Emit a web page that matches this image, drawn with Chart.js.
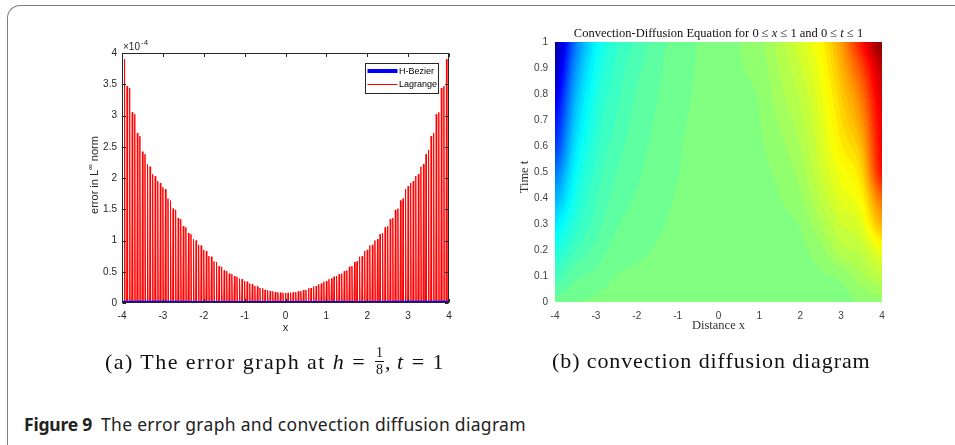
<!DOCTYPE html>
<html>
<head>
<meta charset="utf-8">
<script src="https://cdn.jsdelivr.net/npm/chart.js@4.4.1/dist/chart.umd.min.js"></script>
<style>
  html, body { margin: 0; padding: 0; background: #fff; }
  body { width: 955px; height: 445px; overflow: hidden; position: relative; }
  #frame {
    position: absolute; left: 7px; top: 5px; width: 970px; height: 470px;
    border-left: 1.5px solid #7d7d7d; border-top: 1.5px solid #7d7d7d;
    border-top-left-radius: 13px;
  }
  #errChart { position: absolute; left: 80px; top: 30px; }
  #cdChart { position: absolute; left: 505px; top: 15px; }
  .sub {
    position: absolute; top: 348px; font-family: "Liberation Serif", serif;
    font-size: 22px; letter-spacing: 0.9px; color: #111; white-space: nowrap;
  }
  #subA { letter-spacing: 1.45px; }
  .frac {
    display: inline-flex; flex-direction: column; align-items: center;
    font-size: 14px; line-height: 1; vertical-align: middle; margin: 0 1px 0 2px;
    letter-spacing: 0; position: relative; top: -2px;
  }
  .frac span:first-child { border-bottom: 1px solid #111; padding: 0 1px 1px; }
  .frac span:last-child { padding-top: 1px; }
  .it { font-style: italic; }
  .eq { margin: 0 7px; }
  .cm { margin-right: 5px; }
  #caption {
    position: absolute; left: 24px; top: 412px; font-family: "Noto Sans", sans-serif;
    font-size: 17.5px; color: #222; white-space: nowrap; letter-spacing: 0.3px;
  }
  #caption b { font-weight: 700; margin-right: 4px; letter-spacing: -0.2px; }
</style>
</head>
<body>
<div id="frame"></div>
<canvas id="errChart" width="390" height="320"></canvas>
<canvas id="cdChart" width="400" height="330"></canvas>
<div class="sub" id="subA" style="left:105px">(a) The error graph at <span class="it">h</span><span class="eq">=</span><span class="frac"><span>1</span><span>8</span></span><span class="cm">,</span><span class="it">t</span><span class="eq">=</span>1</div>
<div class="sub" style="left:552px">(b) convection diffusion diagram</div>
<div id="caption"><b>Figure 9</b> The error graph and convection diffusion diagram</div>

<script>
// ---- (a) error graph, y values in units of 1e-4 ----
const errXTicks = [-4, -3, -2, -1, 0, 1, 2, 3, 4];
const errYTicks = [0, 0.5, 1, 1.5, 2, 2.5, 3, 3.5, 4];

const hBezierX = [-4, -3, -2, -1, 0, 1, 2, 3, 4];
const hBezierErr = [0.004, 0.003, 0.002, 0.001, 0.001, 0.001, 0.002, 0.003, 0.004];

// spike positions start at -4, one every 1/16
const SPIKE_START = -4;
const SPIKE_STEP = 1 / 16;
const lagrangePeak = [
  3.95, 3.90, 3.47, 3.44, 3.05, 3.02, 2.72, 2.67, 2.42, 2.38, 2.22, 2.18, 2.06, 2.03, 1.95, 1.92,
  1.85, 1.82, 1.67, 1.64, 1.51, 1.49, 1.36, 1.34, 1.23, 1.21, 1.12, 1.10, 1.02, 1.00, 0.93, 0.92,
  0.85, 0.83, 0.75, 0.74, 0.665, 0.655, 0.59, 0.58, 0.52, 0.51, 0.47, 0.46, 0.43, 0.42, 0.39, 0.38,
  0.35, 0.34, 0.31, 0.30, 0.27, 0.265, 0.24, 0.235, 0.21, 0.205, 0.19, 0.185, 0.175, 0.17, 0.165, 0.162,
  0.16,
  0.162, 0.165, 0.17, 0.175, 0.185, 0.19, 0.205, 0.21, 0.235, 0.24, 0.265, 0.27, 0.30, 0.31, 0.34, 0.35,
  0.38, 0.39, 0.42, 0.43, 0.46, 0.47, 0.51, 0.52, 0.58, 0.59, 0.655, 0.665, 0.74, 0.75, 0.83, 0.85,
  0.92, 0.93, 1.00, 1.02, 1.10, 1.12, 1.21, 1.23, 1.34, 1.36, 1.49, 1.51, 1.64, 1.67, 1.82, 1.87,
  1.92, 1.95, 2.03, 2.06, 2.18, 2.22, 2.38, 2.45, 2.67, 2.72, 3.02, 3.05, 3.44, 3.47, 3.90, 3.95
];

// ---- (b) convection diffusion field, colour value 0..1 on the jet map ----
const cdX = [-4, -3.5, -3, -2.5, -2, -1.5, -1, -0.5, 0, 0.5, 1, 1.5, 2, 2.5, 3, 3.5, 4];
const cdT = [0, 0.1, 0.2, 0.3, 0.4, 0.5, 0.6, 0.7, 0.8, 0.9, 1];
const cdU = [
  [0.480, 0.490, 0.495, 0.500, 0.500, 0.500, 0.500, 0.500, 0.500, 0.500, 0.500, 0.500, 0.500, 0.500, 0.500, 0.511, 0.520],
  [0.440, 0.470, 0.480, 0.492, 0.495, 0.497, 0.499, 0.500, 0.500, 0.500, 0.500, 0.501, 0.501, 0.505, 0.514, 0.538, 0.560],
  [0.400, 0.440, 0.465, 0.482, 0.488, 0.493, 0.497, 0.499, 0.500, 0.501, 0.501, 0.502, 0.504, 0.520, 0.552, 0.565, 0.610],
  [0.360, 0.415, 0.450, 0.473, 0.482, 0.489, 0.495, 0.498, 0.500, 0.502, 0.502, 0.504, 0.510, 0.540, 0.575, 0.598, 0.700],
  [0.300, 0.395, 0.440, 0.465, 0.477, 0.486, 0.493, 0.497, 0.500, 0.503, 0.503, 0.508, 0.522, 0.560, 0.599, 0.631, 0.770],
  [0.240, 0.375, 0.430, 0.458, 0.472, 0.483, 0.491, 0.496, 0.500, 0.503, 0.504, 0.513, 0.532, 0.575, 0.616, 0.664, 0.860],
  [0.180, 0.350, 0.420, 0.450, 0.468, 0.480, 0.490, 0.496, 0.500, 0.504, 0.506, 0.520, 0.542, 0.585, 0.639, 0.696, 0.880],
  [0.140, 0.325, 0.410, 0.443, 0.464, 0.477, 0.488, 0.495, 0.500, 0.505, 0.508, 0.528, 0.552, 0.595, 0.657, 0.729, 0.890],
  [0.100, 0.300, 0.400, 0.436, 0.460, 0.474, 0.486, 0.494, 0.500, 0.506, 0.510, 0.536, 0.562, 0.605, 0.674, 0.762, 0.910],
  [0.060, 0.270, 0.385, 0.430, 0.453, 0.471, 0.484, 0.493, 0.500, 0.507, 0.515, 0.543, 0.573, 0.617, 0.697, 0.805, 0.940],
  [0.030, 0.240, 0.370, 0.422, 0.445, 0.468, 0.482, 0.492, 0.500, 0.508, 0.520, 0.550, 0.585, 0.630, 0.720, 0.860, 0.990]
];
const cdXTicks = [-4, -3, -2, -1, 0, 1, 2, 3, 4];
const cdTTicks = [0, 0.1, 0.2, 0.3, 0.4, 0.5, 0.6, 0.7, 0.8, 0.9, 1];

const SANS = '"Liberation Sans", Arial, sans-serif';
const SERIF = '"Liberation Serif", "Times New Roman", serif';

// lagrange error drawn as narrow spikes rising from zero
const SPIKE_HALF = 0.012;
const lagrangeData = [];
lagrangePeak.forEach((p, k) => {
  const xv = SPIKE_START + k * SPIKE_STEP;
  lagrangeData.push({ x: xv - SPIKE_HALF, y: 0 }, { x: xv, y: p }, { x: xv + SPIKE_HALF, y: 0 });
});

const fixTicks = (list) => (scale) => { scale.ticks = list.map(v => ({ value: v })); };
const plainLabel = (v) => String(v);

const errDecor = {
  id: 'errDecor',
  afterDraw(chart) {
    const { ctx, chartArea: a, scales: { x, y } } = chart;
    ctx.save();
    ctx.strokeStyle = '#262626';
    ctx.lineWidth = 1;
    const L = Math.round(a.left) + 0.5, R = Math.round(a.right) - 0.5;
    const T = Math.round(a.top) + 0.5, B = Math.round(a.bottom) - 0.5;
    ctx.strokeRect(L, T, R - L, B - T);
    ctx.beginPath();
    x.ticks.forEach(t => {
      const px = Math.round(x.getPixelForValue(t.value)) + 0.5;
      ctx.moveTo(px, B); ctx.lineTo(px, B - 3.5);
      ctx.moveTo(px, T); ctx.lineTo(px, T + 3.5);
    });
    y.ticks.forEach(t => {
      const py = Math.round(y.getPixelForValue(t.value)) + 0.5;
      ctx.moveTo(L, py); ctx.lineTo(L + 3.5, py);
      ctx.moveTo(R, py); ctx.lineTo(R - 3.5, py);
    });
    ctx.stroke();

    // exponent label
    ctx.fillStyle = '#262626';
    ctx.textBaseline = 'alphabetic';
    ctx.textAlign = 'left';
    ctx.font = '10px ' + SANS;
    ctx.fillText('\u00d710', a.left + 1, a.top - 3);
    const w10 = ctx.measureText('\u00d710').width;
    ctx.font = '8px ' + SANS;
    ctx.fillText('-4', a.left + 1 + w10 + 1, a.top - 8);

    // axis titles
    ctx.font = '11px ' + SANS;
    ctx.textAlign = 'center';
    ctx.textBaseline = 'middle';
    ctx.fillText('x', (a.left + a.right) / 2, a.bottom + 25);

    ctx.save();
    ctx.translate(a.left - 27, (a.top + a.bottom) / 2 - 3);
    ctx.rotate(-Math.PI / 2);
    ctx.textAlign = 'left';
    ctx.font = '11px ' + SANS;
    const p1 = 'error in L', p3 = ' norm';
    const w1 = ctx.measureText(p1).width, w3 = ctx.measureText(p3).width;
    ctx.font = '8px ' + SANS;
    const w2 = ctx.measureText('\u221e').width;
    const sx = -(w1 + w2 + w3) / 2;
    ctx.font = '11px ' + SANS;
    ctx.fillText(p1, sx, 0);
    ctx.font = '8px ' + SANS;
    ctx.fillText('\u221e', sx + w1, -4);
    ctx.font = '11px ' + SANS;
    ctx.fillText(p3, sx + w1 + w2, 0);
    ctx.restore();

    // legend box inside the axes
    const bx = Math.round(a.right) - 83.5, by = Math.round(a.top) + 10.5, bw = 73, bh = 30;
    ctx.fillStyle = '#fff';
    ctx.fillRect(bx, by, bw, bh);
    ctx.strokeStyle = '#262626';
    ctx.lineWidth = 1;
    ctx.strokeRect(bx, by, bw, bh);
    const ds = chart.data.datasets;
    [0, 1].forEach(i => {
      const ly = by + 7.5 + i * 13.5;
      ctx.strokeStyle = ds[i].borderColor;
      ctx.lineWidth = ds[i].borderWidth;
      ctx.beginPath();
      ctx.moveTo(bx + 2, ly); ctx.lineTo(bx + 32, ly);
      ctx.stroke();
      ctx.fillStyle = '#000';
      ctx.font = '9px ' + SANS;
      ctx.textAlign = 'left';
      ctx.textBaseline = 'middle';
      ctx.fillText(ds[i].label, bx + 33.5, ly + 0.5);
    });
    ctx.restore();
  }
};

new Chart(document.getElementById('errChart'), {
  type: 'line',
  data: {
    datasets: [
      {
        label: 'H-Bezier',
        data: hBezierX.map((xv, i) => ({ x: xv, y: hBezierErr[i] })),
        borderColor: 'rgb(0, 0, 255)',
        borderWidth: 4,
        pointRadius: 0,
        tension: 0,
        order: 0
      },
      {
        label: 'Lagrange',
        data: lagrangeData,
        borderColor: 'rgb(255, 0, 0)',
        borderWidth: 1,
        pointRadius: 0,
        tension: 0,
        order: 1
      }
    ]
  },
  options: {
    responsive: false,
    animation: false,
    devicePixelRatio: 1,
    layout: { padding: { top: 23, right: 21, left: 0, bottom: 0 } },
    plugins: { legend: { display: false }, tooltip: { enabled: false } },
    scales: {
      x: {
        type: 'linear', min: -4, max: 4,
        afterBuildTicks: fixTicks(errXTicks),
        afterFit: (s) => { s.height = 47; },
        grid: { display: false, drawTicks: false },
        border: { display: false },
        ticks: { padding: 7, color: '#262626', font: { family: SANS, size: 10 }, callback: plainLabel }
      },
      y: {
        type: 'linear', min: 0, max: 4,
        afterBuildTicks: fixTicks(errYTicks),
        afterFit: (s) => { s.width = 42; },
        grid: { display: false, drawTicks: false },
        border: { display: false },
        ticks: { padding: 5, color: '#262626', font: { family: SANS, size: 10 }, callback: plainLabel }
      }
    }
  },
  plugins: [errDecor]
});

// ---- heat map ----
function jet(v) {
  const c = (u) => Math.max(0, Math.min(1, u));
  return [
    c(Math.min(4 * v - 1.5, -4 * v + 4.5)),
    c(Math.min(4 * v - 0.5, -4 * v + 3.5)),
    c(Math.min(4 * v + 0.5, -4 * v + 2.5))
  ];
}

function cellIndex(arr, v) {
  let i = 0;
  while (i < arr.length - 2 && v > arr[i + 1]) i++;
  return i;
}

// smooth (Catmull-Rom) shading between the table nodes
function cr(p0, p1, p2, p3, f) {
  return 0.5 * (2 * p1 + (p2 - p0) * f + (2 * p0 - 5 * p1 + 4 * p2 - p3) * f * f + (3 * p1 - p0 - 3 * p2 + p3) * f * f * f);
}
const clampI = (i, n) => Math.max(0, Math.min(n - 1, i));

function sampleField(xv, tv) {
  const i = cellIndex(cdX, xv), j = cellIndex(cdT, tv);
  const fx = Math.max(0, Math.min(1, (xv - cdX[i]) / (cdX[i + 1] - cdX[i])));
  const ft = Math.max(0, Math.min(1, (tv - cdT[j]) / (cdT[j + 1] - cdT[j])));
  const nx = cdX.length, nt = cdT.length;
  const rowVal = (jj) => {
    const r = cdU[clampI(jj, nt)];
    return cr(r[clampI(i - 1, nx)], r[i], r[i + 1], r[clampI(i + 2, nx)], fx);
  };
  const v = cr(rowVal(j - 1), rowVal(j), rowVal(j + 1), rowVal(j + 2), ft);
  return Math.max(0, Math.min(1, v));
}

const LEVELS = 60;
const heatPlugin = {
  id: 'heat',
  beforeDatasetsDraw(chart) {
    const { ctx, chartArea: a, scales: { x, y } } = chart;
    const L = Math.round(a.left), T = Math.round(a.top);
    const W = Math.round(a.right) - L, H = Math.round(a.bottom) - T;
    const img = ctx.createImageData(W, H);
    for (let j = 0; j < H; j++) {
      const tv = y.getValueForPixel(T + j + 0.5);
      for (let i = 0; i < W; i++) {
        const xv = x.getValueForPixel(L + i + 0.5);
        const v = Math.floor(sampleField(xv, tv) * LEVELS + 0.5) / LEVELS;
        const rgb = jet(v);
        const k = (j * W + i) * 4;
        img.data[k] = Math.round(rgb[0] * 255);
        img.data[k + 1] = Math.round(rgb[1] * 255);
        img.data[k + 2] = Math.round(rgb[2] * 255);
        img.data[k + 3] = 255;
      }
    }
    ctx.putImageData(img, L, T);
  }
};

const cdDecor = {
  id: 'cdDecor',
  afterDraw(chart) {
    const { ctx, chartArea: a } = chart;
    ctx.save();
    ctx.fillStyle = '#111';
    ctx.textBaseline = 'middle';
    // title with italic variables
    const parts = [
      ['Convection-Diffusion Equation for 0 \u2264 ', false],
      ['x', true],
      [' \u2264 1 and 0 \u2264 ', false],
      ['t', true],
      [' \u2264 1', false]
    ];
    const fnt = (it) => (it ? 'italic ' : '') + '12.5px ' + SERIF;
    let total = 0;
    parts.forEach(p => { ctx.font = fnt(p[1]); total += ctx.measureText(p[0]).width; });
    let sx = (a.left + a.right) / 2 - total / 2;
    ctx.textAlign = 'left';
    parts.forEach(p => {
      ctx.font = fnt(p[1]);
      ctx.fillText(p[0], sx, a.top - 8);
      sx += ctx.measureText(p[0]).width;
    });
    ctx.fillStyle = '#333';
    ctx.font = '12.5px ' + SERIF;
    ctx.textAlign = 'center';
    ctx.fillText('Distance x', (a.left + a.right) / 2, a.bottom + 24);
    ctx.save();
    ctx.translate(a.left - 30, (a.top + a.bottom) / 2 + 5);
    ctx.rotate(-Math.PI / 2);
    ctx.fillText('Time t', 0, 0);
    ctx.restore();
    ctx.restore();
  }
};

new Chart(document.getElementById('cdChart'), {
  type: 'scatter',
  data: { datasets: [{ label: 'u(x,t)', data: [] }] },
  options: {
    responsive: false,
    animation: false,
    devicePixelRatio: 1,
    layout: { padding: { top: 27, right: 23, left: 0, bottom: 0 } },
    plugins: { legend: { display: false }, tooltip: { enabled: false } },
    scales: {
      x: {
        type: 'linear', min: -4, max: 4,
        afterBuildTicks: fixTicks(cdXTicks),
        afterFit: (s) => { s.height = 43; },
        grid: { display: false, drawTicks: false },
        border: { display: false },
        ticks: { padding: 8, color: '#404040', font: { family: SANS, size: 10 }, callback: plainLabel }
      },
      y: {
        type: 'linear', min: 0, max: 1,
        afterBuildTicks: fixTicks(cdTTicks),
        afterFit: (s) => { s.width = 50; },
        grid: { display: false, drawTicks: false },
        border: { display: false },
        ticks: { padding: 7, color: '#404040', font: { family: SANS, size: 10 }, callback: plainLabel }
      }
    }
  },
  plugins: [heatPlugin, cdDecor]
});
</script>
</body>
</html>
